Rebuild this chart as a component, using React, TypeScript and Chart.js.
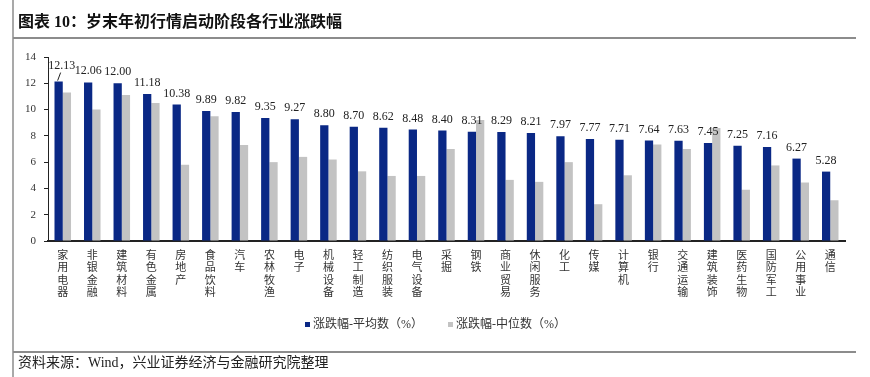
import React, { useEffect, useRef } from 'react';
import { Chart, registerables } from 'chart.js';

Chart.register(...registerables);

const categories = [
  '家用电器', '非银金融', '建筑材料', '有色金属', '房地产', '食品饮料', '汽车', '农林牧渔', '电子',
  '机械设备', '轻工制造', '纺织服装', '电气设备', '采掘', '钢铁', '商业贸易', '休闲服务', '化工',
  '传媒', '计算机', '银行', '交通运输', '建筑装饰', '医药生物', '国防军工', '公用事业', '通信',
];
const meanValues = [
  12.13, 12.06, 12.0, 11.18, 10.38, 9.89, 9.82, 9.35, 9.27,
  8.8, 8.7, 8.62, 8.48, 8.4, 8.31, 8.29, 8.21, 7.97,
  7.77, 7.71, 7.64, 7.63, 7.45, 7.25, 7.16, 6.27, 5.28,
];
const medianValues = [
  11.3, 10.0, 11.1, 10.5, 5.8, 9.5, 7.3, 6.0, 6.4,
  6.2, 5.3, 4.95, 4.95, 7.0, 9.2, 4.65, 4.5, 6.0,
  2.8, 5.0, 7.35, 7.0, 8.6, 3.9, 5.75, 4.45, 3.1,
];
const yTicks = [0, 2, 4, 6, 8, 10, 12, 14];
const seriesNames = ['涨跌幅-平均数（%）', '涨跌幅-中位数（%）'];
const titleText = '图表 10：岁末年初行情启动阶段各行业涨跌幅';
const sourceText = '资料来源：Wind，兴业证券经济与金融研究院整理';

const BLUE = '#0A2885';
const GRAY = '#C3C3C3';
const SERIF_CJK = '"Liberation Serif", "Noto Sans CJK SC"';

const decorPlugin = {
  id: 'decor',
  beforeDraw(chart: any) {
    const ctx = chart.ctx;
    ctx.save();
    ctx.fillStyle = '#ffffff';
    ctx.fillRect(0, 0, chart.width, chart.height);
    ctx.restore();
  },
  afterDatasetsDraw(chart: any) {
    const ctx = chart.ctx;
    const meta = chart.getDatasetMeta(0);
    ctx.save();
    ctx.font = '12px "Liberation Serif"';
    ctx.fillStyle = '#222';
    ctx.textAlign = 'center';
    ctx.textBaseline = 'alphabetic';
    meta.data.forEach((bar: any, i: number) => {
      const v = meanValues[i];
      const txt = v.toFixed(2);
      if (i === 0) {
        ctx.fillText(txt, bar.x + 3, bar.y - 13);
        ctx.strokeStyle = '#222';
        ctx.lineWidth = 1;
        ctx.beginPath();
        ctx.moveTo(bar.x - 1, bar.y - 1);
        ctx.lineTo(bar.x + 2, bar.y - 9);
        ctx.stroke();
      } else {
        ctx.fillText(txt, bar.x, bar.y - 8);
      }
    });
    ctx.restore();
  },
  afterDraw(chart: any) {
    const ctx = chart.ctx;
    ctx.save();
    // frame lines
    ctx.strokeStyle = '#8c8c8c';
    ctx.lineWidth = 1.5;
    ctx.beginPath();
    ctx.moveTo(13, 0);
    ctx.lineTo(13, 377);
    ctx.stroke();
    ctx.lineWidth = 2;
    ctx.beginPath();
    ctx.moveTo(13, 38);
    ctx.lineTo(856, 38);
    ctx.moveTo(13, 352);
    ctx.lineTo(856, 352);
    ctx.stroke();

    // title
    ctx.fillStyle = '#111';
    ctx.font = 'bold 16px ' + SERIF_CJK;
    ctx.textAlign = 'left';
    ctx.textBaseline = 'middle';
    ctx.fillText(titleText, 18, 23);

    // source
    ctx.fillStyle = '#222';
    ctx.font = '14px ' + SERIF_CJK;
    ctx.fillText(sourceText, 18, 363);

    // legend
    ctx.font = '12px ' + SERIF_CJK;
    ctx.fillStyle = BLUE;
    ctx.fillRect(305, 322, 5, 5);
    ctx.fillStyle = '#333';
    ctx.fillText(seriesNames[0], 313, 325);
    ctx.fillStyle = GRAY;
    ctx.fillRect(448, 322, 5, 5);
    ctx.fillStyle = '#333';
    ctx.fillText(seriesNames[1], 456, 325);
    ctx.restore();
  },
};

export default function App() {
  const ref = useRef<HTMLCanvasElement | null>(null);

  useEffect(() => {
    if (!ref.current) return;
    const chart = new Chart(ref.current, {
      type: 'bar',
      data: {
        labels: categories.map((c) => c.split('')),
        datasets: [
          {
            label: seriesNames[0],
            data: meanValues,
            backgroundColor: BLUE,
            categoryPercentage: 0.56,
            barPercentage: 1.0,
          },
          {
            label: seriesNames[1],
            data: medianValues,
            backgroundColor: GRAY,
            categoryPercentage: 0.56,
            barPercentage: 1.0,
          },
        ],
      },
      options: {
        responsive: false,
        animation: false,
        layout: { padding: { left: 0, right: 25, top: 57, bottom: 60 } },
        plugins: {
          legend: { display: false },
          tooltip: { enabled: false },
          title: { display: false },
        },
        scales: {
          x: {
            grid: { display: false, drawTicks: false },
            border: { display: true, color: '#222', width: 2 },
            ticks: {
              padding: 7,
              autoSkip: false,
              maxRotation: 0,
              minRotation: 0,
              color: '#333',
              font: { family: '"Noto Sans CJK SC"', size: 11, lineHeight: 1.15 },
            },
            afterFit(scale: any) {
              scale.height = 76;
            },
          },
          y: {
            min: 0,
            max: 14,
            afterBuildTicks(scale: any) {
              scale.ticks = yTicks.map((v) => ({ value: v }));
            },
            grid: {
              display: true,
              drawOnChartArea: false,
              drawTicks: true,
              tickLength: 4,
              color: '#222',
            },
            border: { display: true, color: '#222', width: 1 },
            ticks: {
              padding: 8,
              color: '#333',
              font: { family: '"Liberation Serif"', size: 11 },
            },
            afterFit(scale: any) {
              scale.width = 48;
            },
          },
        },
      },
      plugins: [decorPlugin],
    });
    return () => chart.destroy();
  }, []);

  return (
    <div style={{ position: 'fixed', left: 0, top: 0, width: 870, height: 377 }}>
      <canvas ref={ref} width={870} height={377} />
    </div>
  );
}
